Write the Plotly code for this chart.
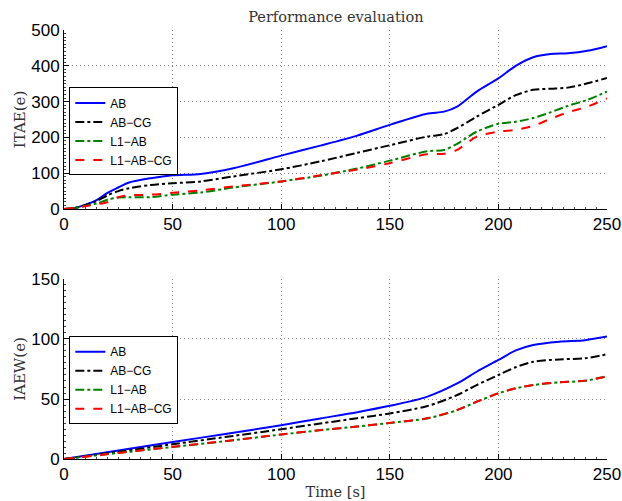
import plotly.graph_objects as go

# ---------------- data ----------------
t_top = [0, 5, 10, 15, 20, 25, 30, 40, 50, 63, 78, 100, 118, 135, 150, 167, 175, 181,
         190, 200, 208, 216, 224, 232, 241, 250]
itae_ab = [0, 3, 12, 25, 45, 60, 74, 86, 94, 98, 114, 149, 177, 205, 235, 266, 272, 286,
           328, 365, 400, 424, 433, 435, 442, 455]
itae_abcg = [0, 3, 11, 22, 38, 50, 58, 67, 72, 77, 91, 111, 133, 157, 178, 202, 209, 226,
             258, 291, 318, 333, 336, 339, 351, 366]
itae_l1ab = [0, 3, 9, 15, 26, 32, 33, 33, 40, 46, 60, 77, 93, 113, 135, 161, 165, 182,
             216, 238, 244, 254, 270, 288, 305, 328]
itae_l1abcg = [0, 3, 8, 13, 19, 33, 38, 40, 45, 52, 63, 77, 94, 110, 128, 153, 154, 165,
               202, 216, 221, 232, 252, 270, 286, 309]

t_bot = [0, 25, 50, 75, 100, 118, 135, 150, 167, 181, 190, 200, 208, 216, 228, 240, 250]
iaew_ab = [0, 7, 14.2, 21, 28.2, 33.8, 39, 44.3, 51.8, 63, 72.7, 82.5, 90.5, 95, 97.8, 99, 102]
iaew_abcg = [0, 6, 12.3, 18.5, 24.8, 29.6, 34, 38, 44, 53.3, 61.6, 70, 76.5, 81, 83, 84, 87.3]
iaew_l1ab = [0, 5, 10, 15, 20.4, 24, 27, 30, 33.8, 40.7, 47.7, 54.7, 58.9, 61.6, 63.9, 65.2, 69]
iaew_l1abcg = [0, 5.1, 10.2, 15.1, 20.5, 24.1, 27.1, 30.1, 33.9, 40.8, 47.8, 54.8, 59, 61.7, 64, 65.3, 68.8]

series_names = ["AB", "AB\u2212CG", "L1\u2212AB", "L1\u2212AB\u2212CG"]
x_ticks = [0, 50, 100, 150, 200, 250]
y_top_ticks = [0, 100, 200, 300, 400, 500]
y_bot_ticks = [0, 50, 100, 150]

# ---------------- styles ----------------
styles = [
    dict(color="#0000ff", dash="solid"),
    dict(color="#000000", dash="dashdot"),
    dict(color="#008000", dash="dashdot"),
    dict(color="#ff0000", dash="dash"),
]

fig = go.Figure()
top_data = [itae_ab, itae_abcg, itae_l1ab, itae_l1abcg]
bot_data = [iaew_ab, iaew_abcg, iaew_l1ab, iaew_l1abcg]
for name, ys, st in zip(series_names, top_data, styles):
    fig.add_trace(go.Scatter(x=t_top, y=ys, mode="lines", name=name,
                             line=dict(color=st["color"], dash=st["dash"], width=2,
                                       shape="spline", smoothing=0.8),
                             xaxis="x", yaxis="y", legend="legend"))
for name, ys, st in zip(series_names, bot_data, styles):
    fig.add_trace(go.Scatter(x=t_bot, y=ys, mode="lines", name=name,
                             line=dict(color=st["color"], dash=st["dash"], width=2,
                                       shape="spline", smoothing=0.8),
                             xaxis="x2", yaxis="y2", legend="legend2"))

tickfont = dict(family="Liberation Sans, Arial, sans-serif", size=17, color="#000")
serif = dict(family="DejaVu Serif, Liberation Serif, serif", size=14.5, color="#333")
serif_y = dict(family="DejaVu Serif, Liberation Serif, serif", size=15, color="#333")
GRID = dict(showgrid=True, gridcolor="#888", griddash="1px,3px", gridwidth=1)

def xaxis(anchor, title=None):
    d = dict(range=[0, 250], tickvals=x_ticks, anchor=anchor, domain=[0, 1],
             showline=True, linecolor="#000", linewidth=1, mirror=False,
             ticks="inside", ticklen=5, tickcolor="#000", tickfont=tickfont,
             zeroline=False, automargin=False,
             minor=dict(ticks="inside", ticklen=2, dtick=5, tickcolor="#444", showgrid=False),
             **GRID)
    if title:
        d["title"] = dict(text=title, font=serif, standoff=3)
    return d

def yaxis(anchor, dom, rng, tv, mdt, title):
    return dict(range=rng, tickvals=tv, anchor=anchor, domain=dom,
                showline=True, linecolor="#000", linewidth=1, mirror=False,
                ticks="inside", ticklen=5, tickcolor="#000", tickfont=tickfont,
                zeroline=False, automargin=False,
                minor=dict(ticks="inside", ticklen=2, dtick=mdt, tickcolor="#444", showgrid=False),
                title=dict(text=title, font=serif_y, standoff=1),
                **GRID)

legend_common = dict(bgcolor="white", bordercolor="#000", borderwidth=1,
                     font=dict(family="Liberation Sans, Arial, sans-serif", size=12, color="#000"),
                     xanchor="left", yanchor="top", tracegroupgap=0, itemwidth=30)

fig.update_layout(
    width=622, height=501,
    margin=dict(l=64, r=15, t=30, b=42),
    paper_bgcolor="white", plot_bgcolor="white",
    title=dict(text="Performance evaluation", font=serif, x=0.540, xanchor="center",
               y=0.966, yanchor="middle"),
    xaxis=xaxis("y"),
    yaxis=yaxis("x", [0.5828, 1], [0, 500], y_top_ticks, 10, "ITAE(e)"),
    xaxis2=xaxis("y2", "Time [s]"),
    yaxis2=yaxis("x2", [0, 0.4196], [0, 150], y_bot_ticks, 5, "IAEW(e)"),
    legend=dict(x=0.0098, y=0.866, **legend_common),
    legend2=dict(x=0.0098, y=0.286, **legend_common),
    showlegend=True,
)

fig.write_html(
    "out.html",
    config={"displayModeBar": False},
    post_script="document.body.style.margin='0';document.body.style.overflow='hidden';",
)
